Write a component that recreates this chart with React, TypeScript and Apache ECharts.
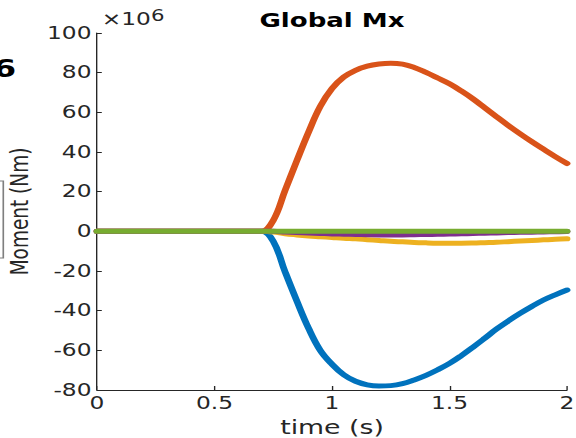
import React, { useEffect, useRef } from "react";
import * as echarts from "echarts";

const time = [
  0, 0.05, 0.1, 0.15, 0.2, 0.25, 0.3, 0.35, 0.4, 0.45, 0.5, 0.55, 0.6, 0.65,
  0.7, 0.75, 0.8, 0.85, 0.9, 0.95, 1.0, 1.05, 1.1, 1.15, 1.2, 1.25, 1.3, 1.35,
  1.4, 1.45, 1.5, 1.55, 1.6, 1.65, 1.7, 1.75, 1.8, 1.85, 1.9, 1.95, 2.0,
];

const blueVals = [
  0, 0, 0, 0, 0, 0, 0, 0, 0, 0, 0, 0, 0, 0,
  0, -5, -20.3, -35, -48.8, -60, -67, -72.3, -75.6, -77.4, -78, -77.8, -76.8, -74.9,
  -72.6, -69.8, -66.6, -62.7, -58.4, -53.9, -49.3, -45.2, -41.4, -37.9, -34.6, -32.0, -29.6,
];

const orangeVals = [
  0, 0, 0, 0, 0, 0, 0, 0, 0, 0, 0, 0, 0, 0,
  0, 5.5, 20.5, 35.5, 50, 63, 72, 77.8, 81.2, 83.3, 84.4, 84.8, 84.3, 82.6,
  80.1, 77.3, 74.4, 70.8, 66.8, 62.3, 57.8, 53.4, 49.2, 45.2, 41.4, 37.7, 34.2,
];

const yellowVals = [
  0, 0, 0, 0, 0, 0, 0, 0, 0, 0, 0, 0, 0, 0,
  0, -0.3, -1.2, -1.8, -2.3, -2.7, -3.1, -3.5, -3.8, -4.2, -4.6, -5.0, -5.3, -5.6,
  -5.8, -5.95, -6.0, -6.0, -5.9, -5.7, -5.5, -5.2, -4.9, -4.6, -4.3, -4.0, -3.8,
];

const purpleVals = [
  0, 0, 0, 0, 0, 0, 0, 0, 0, 0, 0, 0, 0, 0,
  0, 0, -0.3, -0.55, -0.8, -1.05, -1.3, -1.45, -1.6, -1.7, -1.8, -1.8, -1.8, -1.7,
  -1.6, -1.5, -1.4, -1.25, -1.1, -0.95, -0.8, -0.65, -0.5, -0.4, -0.3, -0.2, -0.1,
];

const greenVals = [
  0, 0, 0, 0, 0, 0, 0, 0, 0, 0, 0, 0, 0, 0,
  0, 0, 0, 0, 0, 0, 0, 0, 0, 0, 0, 0, 0, 0,
  0, 0, 0, 0, 0, 0, 0, 0, 0, 0, 0, 0, 0,
];

const seriesDefs = [
  { name: "blue", values: blueVals, color: "#0072BD" },
  { name: "orange", values: orangeVals, color: "#D95319" },
  { name: "yellow", values: yellowVals, color: "#EDB120" },
  { name: "purple", values: purpleVals, color: "#7E2F8E" },
  { name: "green", values: greenVals, color: "#77AC30" },
];

const xTicks = { min: 0, max: 2, interval: 0.5 };
const yTicks = { min: -80, max: 100, interval: 20 };

const W = 420;
const H = 438;
const S = 576 / W;
const FONT = "DejaVu Sans";
const AXIS = "#262626";

export default function App() {
  const ref = useRef<HTMLDivElement>(null);
  useEffect(() => {
    if (!ref.current) return;
    const chart = echarts.init(ref.current, null, { renderer: "svg" });
    const plotLeft = 97 / S;
    const plotRight = W - 567 / S;
    chart.setOption({
      animation: false,
      grid: {
        left: plotLeft,
        right: plotRight,
        top: 33,
        bottom: 48,
        containLabel: false,
        outerBoundsMode: "none",
      },
      xAxis: {
        type: "value",
        min: xTicks.min,
        max: xTicks.max,
        interval: xTicks.interval,
        name: "time (s)",
        nameLocation: "middle",
        nameGap: 27,
        nameTextStyle: { fontFamily: FONT, fontSize: 19.5, color: AXIS },
        axisLine: { show: true, onZero: false, lineStyle: { color: AXIS, width: 1 } },
        axisTick: { show: true, inside: true, length: 4, lineStyle: { color: AXIS } },
        axisLabel: { fontFamily: FONT, fontSize: 17, color: AXIS, margin: 5 },
        splitLine: { show: false },
      },
      yAxis: {
        type: "value",
        min: yTicks.min,
        max: yTicks.max,
        interval: yTicks.interval,
        name: "Moment (Nm)",
        nameLocation: "middle",
        nameGap: 40,
        nameTextStyle: { fontFamily: FONT, fontSize: 18.5, color: AXIS },
        axisLine: { show: true, onZero: false, lineStyle: { color: AXIS, width: 1 } },
        axisTick: { show: true, inside: true, length: 3.5, lineStyle: { color: AXIS } },
        axisLabel: { fontFamily: FONT, fontSize: 17, color: AXIS, margin: 4 },
        splitLine: { show: false },
      },
      graphic: [
        {
          type: "text",
          x: (97 / S + 567 / S) / 2,
          y: 20.5,
          style: {
            text: "Global Mx",
            fontFamily: FONT,
            fontWeight: "bold",
            fontSize: 19,
            fill: "#000",
            align: "center",
            verticalAlign: "middle",
          },
        },
        {
          type: "text",
          x: 101.7 / S,
          y: 8,
          style: {
            text: "{a|×10}{b|6}",
            align: "left",
            verticalAlign: "top",
            rich: {
              a: { fontFamily: FONT, fontSize: 17, lineHeight: 20, fill: AXIS, color: AXIS, padding: [5, 0, 0, 0], verticalAlign: "bottom" },
              b: { fontFamily: FONT, fontSize: 15.5, lineHeight: 14, fill: AXIS, color: AXIS, verticalAlign: "top" },
            },
          },
        },
        {
          type: "text",
          x: 11.7,
          y: 69,
          style: { text: "6", fontFamily: FONT, fontWeight: "bold", fontSize: 24, fill: "#000", align: "right", verticalAlign: "middle" },
        },
        {
          type: "rect",
          shape: { x: -30, y: 181, width: 32.4, height: 77 },
          style: { fill: "none", stroke: "#7f7f7f", lineWidth: 1.2 },
        },
      ],
      series: seriesDefs.map((s) => ({
        name: s.name,
        type: "line",
        data: time.map((t, i) => [t, s.values[i]]),
        smooth: 0.4,
        showSymbol: false,
        symbol: "none",
        lineStyle: { color: s.color, width: 5, cap: "round", join: "round" },
        itemStyle: { color: s.color },
      })),
    });
    return () => chart.dispose();
  }, []);
  return (
    <div
      ref={ref}
      style={{
        position: "fixed",
        left: 0,
        top: 0,
        width: W,
        height: H,
        transform: `scaleX(${S})`,
        transformOrigin: "0 0",
        background: "#fff",
      }}
    />
  );
}
